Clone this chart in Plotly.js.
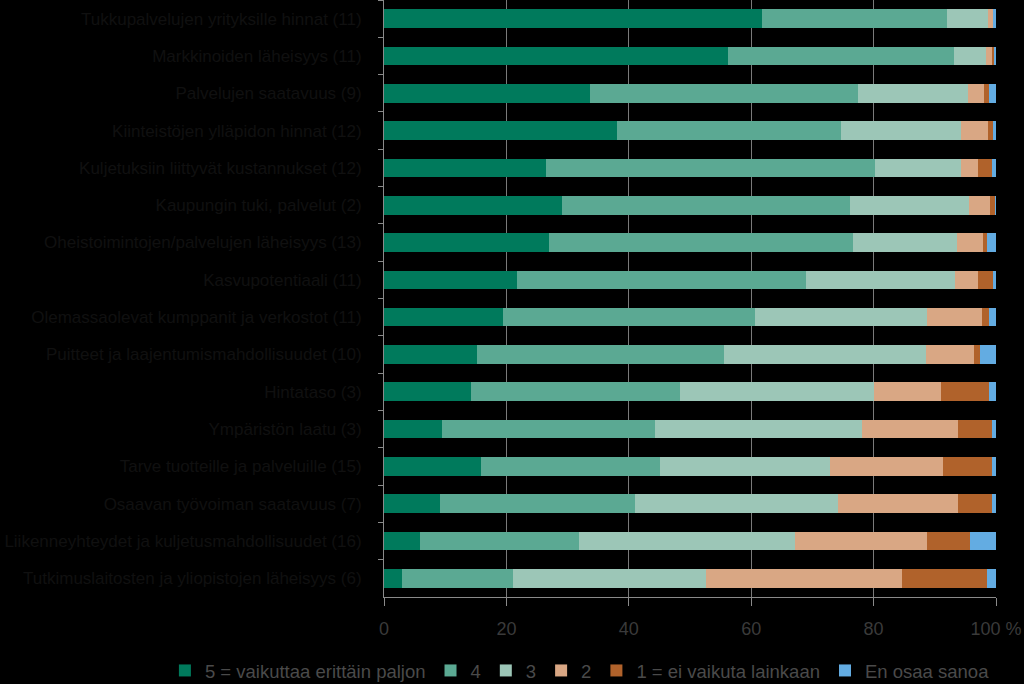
<!DOCTYPE html>
<html>
<head>
<meta charset="utf-8">
<script src="https://cdn.plot.ly/plotly-3.0.1.min.js"></script>
<style>
  html, body { margin: 0; padding: 0; background: #000; }
  #chart { width: 1024px; height: 684px; }
</style>
</head>
<body>
<div id="chart"></div>
<script>
const categories = [
  "Tukkupalvelujen yrityksille hinnat (11)",
  "Markkinoiden läheisyys (11)",
  "Palvelujen saatavuus (9)",
  "Kiinteistöjen ylläpidon hinnat (12)",
  "Kuljetuksiin liittyvät kustannukset (12)",
  "Kaupungin tuki, palvelut (2)",
  "Oheistoimintojen/palvelujen läheisyys (13)",
  "Kasvupotentiaali (11)",
  "Olemassaolevat kumppanit ja verkostot (11)",
  "Puitteet ja laajentumismahdollisuudet (10)",
  "Hintataso (3)",
  "Ympäristön laatu (3)",
  "Tarve tuotteille ja palveluille (15)",
  "Osaavan työvoiman saatavuus (7)",
  "Liikenneyhteydet ja kuljetusmahdollisuudet (16)",
  "Tutkimuslaitosten ja yliopistojen läheisyys (6)"
];
const seriesNames = ["5 = vaikuttaa erittäin paljon", "4", "3", "2", "1 = ei vaikuta lainkaan", "En osaa sanoa"];
const v5  = [61.7, 56.2, 33.6, 38.1, 26.5, 29.1, 26.9, 21.7, 19.4, 15.2, 14.2, 9.4, 15.8, 9.1, 5.8, 3.0];
const v4  = [30.3, 37.0, 43.8, 36.5, 53.7, 47.1, 49.8, 47.3, 41.2, 40.4, 34.2, 34.8, 29.3, 31.9, 26.1, 18.0];
const v3  = [6.7, 5.1, 18.1, 19.7, 14.0, 19.4, 16.9, 24.3, 28.1, 32.9, 31.7, 33.9, 27.8, 33.2, 35.2, 31.6];
const v2  = [0.8, 1.1, 2.5, 4.4, 2.9, 3.4, 4.2, 3.8, 9.0, 7.9, 10.9, 15.7, 18.4, 19.6, 21.6, 32.1];
const v1  = [0.0, 0.3, 0.9, 0.8, 2.2, 0.8, 0.8, 2.4, 1.1, 1.0, 7.9, 5.5, 8.0, 5.5, 7.1, 13.9];
const vEOS = [0.5, 0.3, 1.1, 0.5, 0.7, 0.2, 1.4, 0.5, 1.2, 2.6, 1.1, 0.7, 0.7, 0.7, 4.2, 1.4];
const xTickVals = [0, 20, 40, 60, 80, 100];
const xTickText = ["0", "20", "40", "60", "80", "100 %"];

const colors = ["#007a5c", "#5ba993", "#9cc6b7", "#d9a784", "#b0622b", "#63ace2"];
const values = [v5, v4, v3, v2, v1, vEOS];

const FONT = "Liberation Sans, Arial, sans-serif";

const traces = values.map((vals, i) => ({
  type: "bar",
  orientation: "h",
  name: seriesNames[i],
  y: categories,
  x: vals,
  marker: { color: colors[i], line: { width: 0 } },
  hoverinfo: "skip"
}));

const layout = {
  width: 1024,
  height: 684,
  paper_bgcolor: "#000000",
  plot_bgcolor: "#000000",
  barmode: "stack",
  bargap: 0.5,
  margin: { l: 384, r: 28, t: 0, b: 87, autoexpand: false },
  font: { family: FONT, size: 17, color: "#3a3a3a" },
  xaxis: {
    range: [0, 100],
    tickvals: xTickVals,
    ticktext: xTickText,
    showgrid: true,
    gridcolor: "#7a7a7a",
    gridwidth: 1,
    zeroline: false,
    showline: true,
    linecolor: "#8a8a8a",
    linewidth: 1,
    ticks: "outside",
    ticklen: 8,
    tickcolor: "#8a8a8a",
    ticklabelstandoff: 7,
    tickfont: { family: FONT, size: 18, color: "#3a3a3a" },
    fixedrange: true
  },
  yaxis: {
    type: "category",
    autorange: "reversed",
    showgrid: false,
    zeroline: false,
    showline: true,
    linecolor: "#8a8a8a",
    linewidth: 1,
    ticks: "outside",
    tickson: "boundaries",
    ticklen: 5,
    tickcolor: "#8a8a8a",
    ticklabelstandoff: 18,
    tickfont: { family: FONT, size: 17, color: "#101010" },
    fixedrange: true
  },
  showlegend: true,
  legend: {
    orientation: "h",
    traceorder: "normal",
    x: -0.358,
    xanchor: "left",
    y: -0.092,
    yanchor: "top",
    font: { family: FONT, size: 18.5, color: "#4a4a4a" },
    bgcolor: "rgba(0,0,0,0)",
    itemwidth: 30
  }
};

Plotly.newPlot("chart", traces, layout, { displayModeBar: false, staticPlot: true });
</script>
</body>
</html>
